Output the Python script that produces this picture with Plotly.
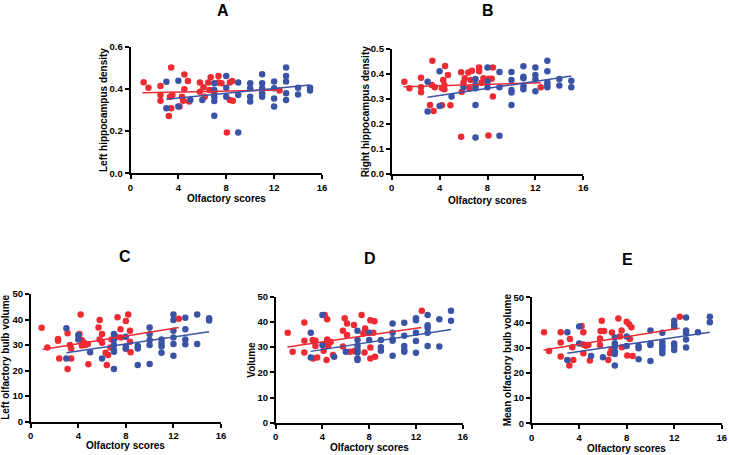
import plotly.graph_objects as go

RED = "#ee2b33"
BLUE = "#3b53a5"

# ---- data ----
a_red_x = [1.1,1.5,2.5,2.5,2.5,3.2,3.4,3.3,3.5,3.4,4.5,4.8,4.3,4.4,4.1,4.5,4.9,5.8,5.8,6.1,6.5,6.7,6.6,6.2,7.35,7.35,7.6,8.05,8.3,8.5,8.3,8.55,12.45,7.0]
a_red_y = [0.431,0.406,0.414,0.371,0.344,0.272,0.502,0.363,0.371,0.308,0.468,0.437,0.363,0.344,0.316,0.398,0.340,0.430,0.387,0.408,0.430,0.455,0.395,0.363,0.461,0.430,0.427,0.193,0.430,0.437,0.347,0.344,0.392,0.38]
a_blue_x = [3,3,4,4,5,6,7,7,7,7,7,8,8,8,9,9,9,10,10,10,10,11,11,11,11,11,12,12,12,12,13,13,13,13,13,14,14,15,15]
a_blue_y = [0.434,0.308,0.439,0.316,0.347,0.347,0.427,0.395,0.363,0.343,0.273,0.461,0.406,0.363,0.193,0.430,0.371,0.427,0.403,0.363,0.340,0.469,0.427,0.403,0.379,0.363,0.435,0.403,0.355,0.316,0.502,0.461,0.435,0.379,0.347,0.406,0.374,0.406,0.393]
a_red_fit_x, a_red_fit_y = [1.0, 12.45], [0.382, 0.395]
a_blue_fit_x, a_blue_fit_y = [3.0, 15.0], [0.351, 0.419]

b_red_x = [1.06,1.48,2.45,2.45,2.45,3.2,3.4,3.35,3.5,3.6,4.46,4.7,4.3,4.4,4.2,4.4,4.2,4.9,5.8,6.0,6.1,5.85,5.8,6.4,6.7,6.6,6.5,7.3,7.3,7.5,7.66,8.1,8.35,8.45,8.45,8.08,12.45]
b_red_y = [0.368,0.342,0.384,0.346,0.326,0.275,0.452,0.355,0.251,0.346,0.431,0.395,0.375,0.355,0.342,0.338,0.274,0.274,0.406,0.364,0.382,0.328,0.149,0.405,0.412,0.375,0.342,0.425,0.41,0.364,0.382,0.38,0.38,0.425,0.309,0.154,0.346]
b_blue_x = [3,3,4,4,5,6,7,7,7,7,7,8,8,8,9,9,9,10,10,10,10,10,11,11,11,11,11,12,12,12,12,13,13,13,13,13,14,14,15,15]
b_blue_y = [0.368,0.249,0.41,0.271,0.309,0.346,0.379,0.355,0.342,0.275,0.146,0.425,0.368,0.346,0.407,0.346,0.153,0.407,0.375,0.335,0.325,0.275,0.43,0.388,0.382,0.351,0.338,0.425,0.395,0.378,0.33,0.452,0.41,0.365,0.355,0.346,0.379,0.353,0.372,0.346]
b_red_fit_x, b_red_fit_y = [1.0, 12.45], [0.348, 0.364]
b_blue_fit_x, b_blue_fit_y = [3.0, 15.0], [0.306, 0.391]

c_red_x = [0.92,1.4,2.3,2.3,2.4,3.1,3.1,3.3,3.4,3.4,4.2,4.3,4.45,4.6,4.3,4.1,4.8,4.85,5.7,5.8,5.8,6.0,6.0,6.3,6.4,6.5,6.7,6.8,7.3,7.2,7.55,7.6,8.0,8.0,8.2,8.35,8.35,8.4,12.45]
c_red_y = [36.8,29.1,32.4,31.7,24.7,34.6,20.6,30.0,28.7,24.7,42.0,32.0,31.0,30.0,29.8,34.3,30.4,22.5,36.9,32.2,39.8,34.3,30.9,27.0,22.2,26.1,29.1,32.2,40.9,33.3,36.2,33.0,39.4,28.6,42.0,35.6,31.3,27.2,40.3]
c_blue_x = [3,3,4,4,5,6,7,7,7,7,7,7,8,8,8,9,9,9,10,10,10,10,10,11,11,11,11,12,12,12,12,12,12,13,13,13,13,14,14,15,15]
c_blue_y = [36.6,24.7,33.9,32.2,27.2,24.7,34.3,32.2,30.0,28.1,27.4,20.6,33.3,29.4,28.7,29.6,28.7,22.2,36.9,34.3,32.0,30.0,22.6,32.2,30.7,29.4,27.0,42.0,39.8,35.6,33.0,30.4,25.8,40.7,36.2,32.2,30.3,42.0,30.4,40.5,39.6]
c_red_fit_x, c_red_fit_y = [1.0, 12.45], [28.3, 36.9]
c_blue_fit_x, c_blue_fit_y = [3.0, 15.0], [27.0, 35.2]

d_red_x = [1.03,1.45,2.45,2.45,2.45,3.17,3.2,3.4,3.4,3.55,4.2,4.4,4.1,4.4,4.5,4.7,4.4,4.35,4.9,5.75,5.9,6.1,6.1,5.75,6.35,6.7,6.7,7.35,7.5,7.65,7.6,8.1,8.1,8.1,8.45,8.35,8.5,12.5]
d_red_y = [35.7,28.2,39.8,32.5,27.9,32.8,25.5,32.5,30.4,25.9,42.7,41.1,28.6,33.0,30.5,32.0,31.5,24.9,26.9,36.5,41.4,39.4,34.8,30.2,28.2,38.8,28.4,42.7,35.4,37.4,27.9,40.7,29.8,25.5,40.3,35.7,26.2,44.4]
d_blue_x = [3,3,4,4,5,6,7,7,7,7,7,7,7,8,8,9,9,9,10,10,10,10,10,11,11,11,11,11,12,12,12,12,12,13,13,13,13,13,14,14,15,15]
d_blue_y = [35.7,25.9,42.7,30.8,26.2,28.2,36.5,32.8,30.4,28.8,27.9,25.5,24.9,35.7,32.8,32.8,29.9,28.6,39.4,35.7,33.1,32.5,26.6,39.7,34.5,30.4,28.8,28.2,41.4,40.7,35.7,32.4,27.8,42.7,38.7,37.7,35.7,30.4,41.1,30.2,44.4,40.5]
d_red_fit_x, d_red_fit_y = [1.0, 12.45], [30.0, 37.8]
d_blue_fit_x, d_blue_fit_y = [3.0, 15.0], [28.3, 37.0]

e_red_x = [1.04,1.46,2.44,2.44,2.44,3.17,3.22,3.42,3.5,4.2,4.35,4.35,4.35,4.55,4.77,4.9,5.8,5.9,5.75,6.1,5.75,6.45,6.6,6.73,6.75,7.3,7.43,7.57,7.6,8.0,8.2,8.4,8.05,8.27,8.5,12.47]
e_red_y = [36.1,28.7,36.1,32.1,26.5,22.9,33.5,30.2,25.1,38.6,36.1,27.8,31.3,30.8,31.1,24.9,36.6,40.7,33.7,36.6,31.1,25.1,27.8,29.4,36.0,41.6,34.4,36.8,30.2,40.3,39.3,38.1,26.9,33.5,26.7,42.3]
e_blue_x = [3,3,4,4,5,6,7,7,7,7,7,7,8,8,9,9,9,10,10,10,10,11,11,11,11,11,11,12,12,12,12,12,12,13,13,13,13,13,14,15,15]
e_blue_y = [36.1,25.1,38.4,31.7,26.7,26.2,34.0,31.7,30.4,28.4,27.5,22.9,34.4,30.7,30.7,29.8,25.4,36.8,31.7,31.1,24.7,35.9,32.3,31.0,30.1,29.1,27.8,40.7,39.1,38.2,31.7,30.7,29.1,42.0,36.8,35.7,33.3,30.1,36.1,42.3,40.1]
e_red_fit_x, e_red_fit_y = [1.0, 12.45], [29.1, 37.7]
e_blue_fit_x, e_blue_fit_y = [3.0, 15.0], [27.8, 36.1]

x_ticks = [0, 4, 8, 12, 16]
x_tick_labels = ["0", "4", "8", "12", "16"]
y_ticks_a = [0.0, 0.2, 0.4, 0.6]
y_tick_labels_a = ["0.0", "0.2", "0.4", "0.6"]
y_ticks_b = [0.0, 0.1, 0.2, 0.3, 0.4, 0.5]
y_tick_labels_b = ["0.0", "0.1", "0.2", "0.3", "0.4", "0.5"]
y_ticks_vol = [0, 10, 20, 30, 40, 50]
y_tick_labels_vol = ["0", "10", "20", "30", "40", "50"]

panel_letters = ["A", "B", "C", "D", "E"]
y_titles = ["Left hippocampus density", "Right hippocampus density",
            "Left olfactory bulb volume", "Volume", "Mean olfactory bulb volume"]
x_title = "Olfactory scores"

panels = [
    (a_red_x, a_red_y, a_blue_x, a_blue_y, a_red_fit_x, a_red_fit_y, a_blue_fit_x, a_blue_fit_y),
    (b_red_x, b_red_y, b_blue_x, b_blue_y, b_red_fit_x, b_red_fit_y, b_blue_fit_x, b_blue_fit_y),
    (c_red_x, c_red_y, c_blue_x, c_blue_y, c_red_fit_x, c_red_fit_y, c_blue_fit_x, c_blue_fit_y),
    (d_red_x, d_red_y, d_blue_x, d_blue_y, d_red_fit_x, d_red_fit_y, d_blue_fit_x, d_blue_fit_y),
    (e_red_x, e_red_y, e_blue_x, e_blue_y, e_red_fit_x, e_red_fit_y, e_blue_fit_x, e_blue_fit_y),
]
y_tick_sets = [(y_ticks_a, y_tick_labels_a), (y_ticks_b, y_tick_labels_b),
               (y_ticks_vol, y_tick_labels_vol), (y_ticks_vol, y_tick_labels_vol),
               (y_ticks_vol, y_tick_labels_vol)]

# pixel boxes (left, right, top, bottom)
W, H = 729, 455
boxes = [
    (130.5, 322.0, 46.7, 173.3),
    (391.7, 583.3, 48.7, 174.0),
    (30.7, 221.0, 294.0, 421.7),
    (275.7, 462.7, 296.7, 422.7),
    (531.7, 721.7, 297.3, 423.3),
]
title_pos = [(223, 10), (488, 10), (125, 256), (370, 258), (627, 259)]
xtitle_y = [198, 200, 445.5, 447, 448]
ytitle_x = [103, 365, 6, 252, 507]

FONT = "Liberation Sans, Arial, sans-serif"
fig = go.Figure()
annotations = []
layout = {}
for i, (rx, ry, bx, by, rfx, rfy, bfx, bfy) in enumerate(panels):
    n = "" if i == 0 else str(i + 1)
    xa, ya = "x" + n, "y" + n
    fig.add_trace(go.Scatter(x=rx, y=ry, mode="markers", xaxis=xa, yaxis=ya, cliponaxis=False,
                             marker=dict(color=RED, size=6.5, line=dict(width=0)), showlegend=False))
    fig.add_trace(go.Scatter(x=bx, y=by, mode="markers", xaxis=xa, yaxis=ya, cliponaxis=False,
                             marker=dict(color=BLUE, size=6.5, line=dict(width=0)), showlegend=False))
    fig.add_trace(go.Scatter(x=rfx, y=rfy, mode="lines", xaxis=xa, yaxis=ya,
                             line=dict(color=RED, width=1.5), showlegend=False))
    fig.add_trace(go.Scatter(x=bfx, y=bfy, mode="lines", xaxis=xa, yaxis=ya,
                             line=dict(color=BLUE, width=1.5), showlegend=False))
    l, r, t, b = boxes[i]
    common = dict(showline=True, linecolor="black", linewidth=1.6, ticks="outside",
                  ticklen=4, tickwidth=1.6, tickcolor="black", showgrid=False, zeroline=False,
                  automargin=False,
                  tickfont=dict(family=FONT, size=9.5, color="black", weight="bold"))
    yv, yt = y_tick_sets[i]
    layout["xaxis" + n] = dict(domain=[l / W, r / W], anchor=ya, range=[0, 16],
                               tickmode="array", tickvals=x_ticks, ticktext=x_tick_labels, **common)
    layout["yaxis" + n] = dict(domain=[1 - b / H, 1 - t / H], anchor=xa, range=[yv[0], yv[-1]],
                               tickmode="array", tickvals=yv, ticktext=yt, **common)
    tx, ty = title_pos[i]
    annotations.append(dict(text=panel_letters[i], x=tx / W, y=1 - ty / H, xref="paper", yref="paper",
                            showarrow=False, xanchor="center", yanchor="middle",
                            font=dict(family=FONT, size=16, color="black", weight="bold")))
    annotations.append(dict(text=x_title, x=(l + r) / 2 / W, y=1 - xtitle_y[i] / H, xref="paper", yref="paper",
                            showarrow=False, xanchor="center", yanchor="middle",
                            font=dict(family=FONT, size=10, color="black", weight="bold")))
    annotations.append(dict(text=y_titles[i], x=ytitle_x[i] / W, y=1 - (t + b) / 2 / H, xref="paper", yref="paper",
                            showarrow=False, xanchor="center", yanchor="middle", textangle=-90,
                            font=dict(family=FONT, size=10, color="black", weight="bold")))

fig.update_layout(template="none", width=W, height=H, margin=dict(l=0, r=0, t=0, b=0, autoexpand=False),
                  plot_bgcolor="white", paper_bgcolor="white",
                  annotations=annotations, **layout)
fig.write_html("out.html", config={"displayModeBar": False},
               post_script="document.body.style.margin='0';document.body.style.padding='0';")
